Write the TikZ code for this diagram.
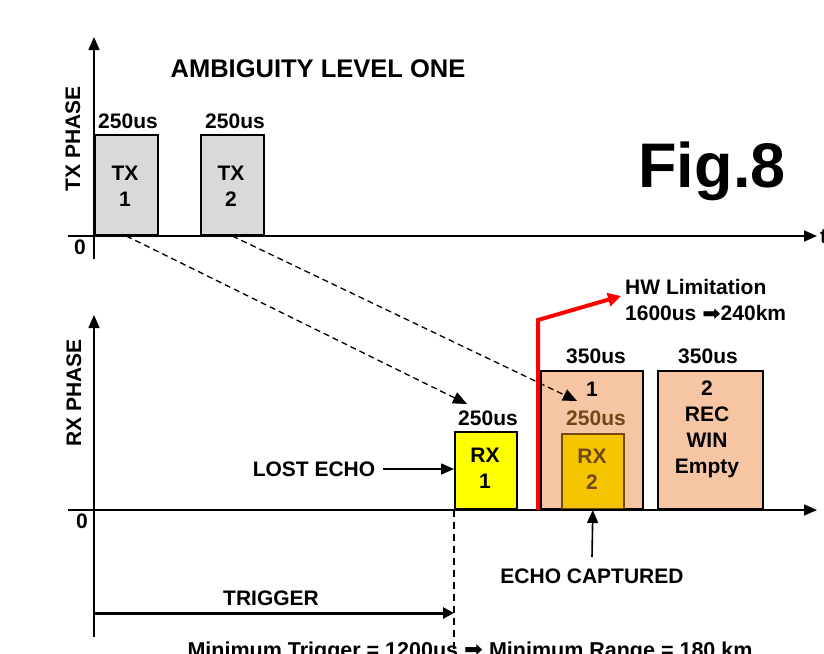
\documentclass[tikz,border=0pt]{standalone}
\usepackage{fontspec}
\setmainfont{Liberation Sans}
\newfontfamily\arrowfont{DejaVu Sans}
\usetikzlibrary{arrows.meta}
\definecolor{txgray}{RGB}{217,217,217}
\definecolor{rxyellow}{RGB}{255,255,0}
\definecolor{peach}{RGB}{246,198,164}
\definecolor{gold}{RGB}{245,196,0}
\definecolor{brownline}{RGB}{112,72,20}
\definecolor{redline}{RGB}{255,0,0}
\newcommand{\heavyarrow}{{\arrowfont\bfseries\raisebox{0.5pt}{\scalebox{1.05}[0.95]{➡}}}}
\tikzset{
  lbl/.style={font=\bfseries\fontsize{21}{26}\selectfont, inner sep=0pt, align=center},
  box/.style={draw=black, line width=1.6pt, anchor=south west, inner sep=0pt},
  axis/.style={line width=1.6pt, -{Triangle[length=13pt,width=11pt]}},
  tip/.style={-{Triangle[length=13pt,width=11pt]}},
  echo/.style={line width=1.3pt, dash pattern=on 6pt off 4pt, -{Triangle[length=14pt,width=12pt]}}
}
\begin{document}
\begin{tikzpicture}[x=1pt,y=-1pt]
\useasboundingbox (0,0) rectangle (824,653);
\clip (0,0) rectangle (824,653);
\fill[white] (0,0) rectangle (824,653);

% ---------- TX phase ----------
\coordinate (txO) at (94,259);
\coordinate (txTop) at (94,37);
\coordinate (txL) at (68,236);
\coordinate (txR) at (817,236);
\draw[axis] (txO) -- (txTop);
\draw[axis] (txL) -- (txR);
\node[lbl, anchor=west] (tlab) at (820,237) {t};
\node[lbl] (tx0) at (80,247) {0};
\node[lbl, rotate=90] (txph) at (73,139) {TX PHASE};
\node[lbl, font=\bfseries\fontsize{25.5}{30}\selectfont, anchor=base] (title) at (318,77) {AMBIGUITY LEVEL ONE};
\node[lbl, font=\bfseries\fontsize{63}{70}\selectfont, anchor=base] (fig) at (712,187) {Fig.8};

\node[box, fill=txgray, minimum width=63pt, minimum height=100pt] (tx1) at (94,236) {};
\node[box, fill=txgray, minimum width=63pt, minimum height=100pt] (tx2) at (200,236) {};
\node[lbl] (tx1t) at (125,186) {TX\\1};
\node[lbl] (tx2t) at (231,186) {TX\\2};
\node[lbl] (tx1d) at (128,121) {250us};
\node[lbl] (tx2d) at (235,121) {250us};

% ---------- RX phase ----------
\coordinate (rxO) at (94,637);
\coordinate (rxTop) at (94,315);
\coordinate (rxL) at (68,510);
\coordinate (rxR) at (817,510);
\node[lbl] (rx0) at (82,521) {0};
\node[lbl, rotate=90] (rxph) at (74,393) {RX PHASE};

\node[box, fill=peach, minimum width=102pt, minimum height=138pt] (w1) at (540,510) {};
\node[box, fill=peach, minimum width=105pt, minimum height=138pt] (w2) at (657,510) {};
\node[box, fill=rxyellow, minimum width=62pt, minimum height=77pt] (rx1) at (454,510) {};
\node[box, draw=brownline, fill=gold, minimum width=62pt, minimum height=75pt] (rx2) at (561,510) {};

\draw[axis] (rxO) -- (rxTop);
\draw[axis] (rxL) -- (rxR);

\node[lbl] (rx1t) at (485,468) {RX\\1};
\node[lbl, text=brownline] (rx2t) at (592,469) {RX\\2};
\node[lbl] (rx1d) at (488,418) {250us};
\node[lbl] (w1n) at (592,389) {1};
\node[lbl, text=brownline] (rx2d) at (596,418) {250us};
\node[lbl] (w2t) at (707,429) {2\\REC\\WIN\\Empty};
\node[lbl] (w1d) at (596,356) {350us};
\node[lbl] (w2d) at (708,356) {350us};

% echoes
\coordinate (e1) at (467,404);
\coordinate (e2) at (577,401);
\draw[echo] (tx1.south) -- (e1);
\draw[echo] (tx2.south) -- (e2);

% HW limitation
\coordinate (hwA) at (538,510);
\coordinate (hwB) at (538,320);
\coordinate (hwC) at (621,296);
\draw[redline, line width=4pt, -{Triangle[length=13pt,width=13pt]}] (hwA) -- (hwB) -- (hwC);
\node[lbl, anchor=west] (hw1) at (625,287) {HW Limitation};
\node[lbl, anchor=west] (hw2) at (625,313) {1600us \heavyarrow240km};

% lost echo
\node[lbl] (lost) at (314,469) {LOST ECHO};
\draw[line width=1.6pt, tip] (lost.east) ++(8,0) coordinate (lostS) (lostS) -- (rx1.west |- lostS);

% echo captured
\node[lbl] (capt) at (592,576) {ECHO CAPTURED};
\coordinate (captS) at (592,557);
\draw[line width=1.6pt, tip] (captS) -- (rx2.south);

% trigger
\coordinate (trgS) at (94,613);
\coordinate (trgE) at (454,613);
\coordinate (dashT) at (454,510);
\coordinate (dashB) at (454,660);
\draw[line width=1.3pt, dash pattern=on 7pt off 5pt] (dashT) -- (dashB);
\draw[line width=3pt, -{Triangle[length=11pt,width=11pt]}] (trgS) -- (trgE);
\node[lbl] (trg) at (271,598) {TRIGGER};
\node[lbl, font=\bfseries\fontsize{21.5}{26}\selectfont, anchor=base] (minT) at (470,657) {Minimum Trigger = 1200us \heavyarrow{} Minimum Range = 180 km};
\end{tikzpicture}
\end{document}
